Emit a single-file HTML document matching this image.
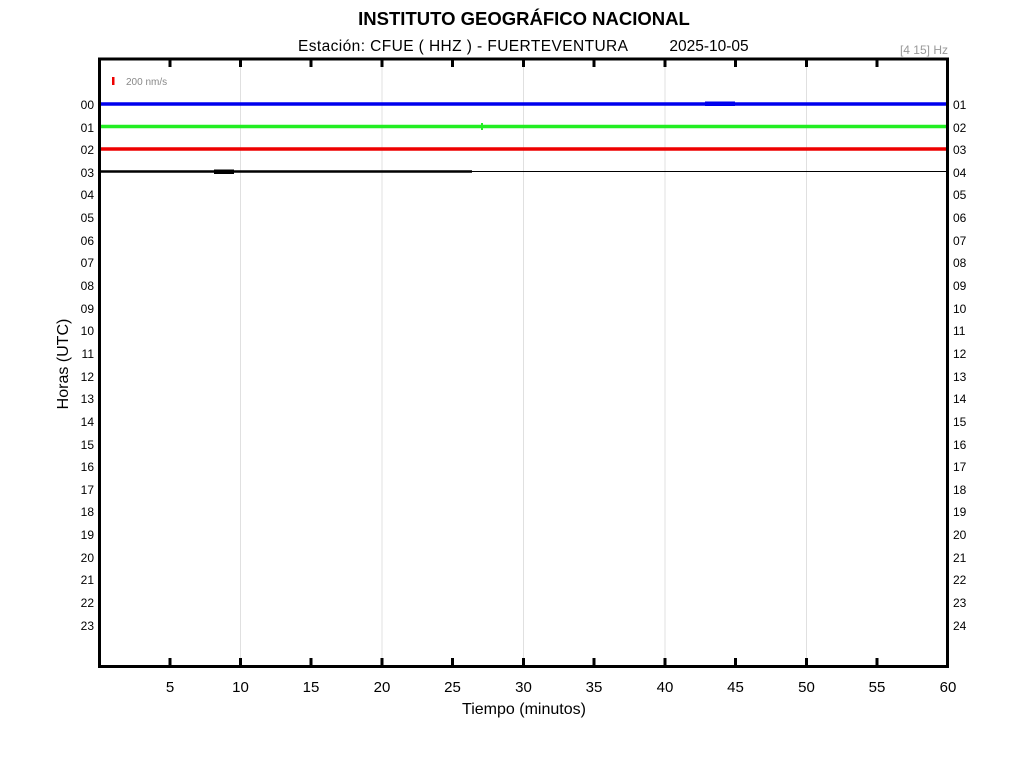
<!DOCTYPE html>
<html><head><meta charset="utf-8"><style>
body{margin:0;background:#fff;}
svg text{font-family:"Liberation Sans",Arial,sans-serif;}
</style></head><body>
<svg width="1024" height="768" xmlns="http://www.w3.org/2000/svg">
<rect width="1024" height="768" fill="#fff"/>
<text x="524" y="25" font-size="18.5" font-weight="bold" text-anchor="middle">INSTITUTO GEOGRÁFICO NACIONAL</text>
<text x="463" y="51" font-size="15.5" text-anchor="middle" textLength="330">Estación:  CFUE ( HHZ ) - FUERTEVENTURA</text>
<text x="709" y="51" font-size="15.5" text-anchor="middle">2025-10-05</text>
<text x="948" y="54" font-size="12" fill="#999" text-anchor="end">[4 15] Hz</text>
<g stroke="#e0e0e0" stroke-width="1">
<line x1="240.5" y1="59" x2="240.5" y2="666"/><line x1="382" y1="59" x2="382" y2="666"/><line x1="523.5" y1="59" x2="523.5" y2="666"/><line x1="665" y1="59" x2="665" y2="666"/><line x1="806.5" y1="59" x2="806.5" y2="666"/>
</g>
<rect x="112" y="77" width="2.5" height="8" fill="#e00"/>
<text x="126" y="85" font-size="10" fill="#888">200 nm/s</text>
<line x1="100" y1="104" x2="947" y2="104" stroke="#0000ee" stroke-width="3.5"/>
<line x1="100" y1="126.5" x2="947" y2="126.5" stroke="#22ee22" stroke-width="3.5"/>
<line x1="100" y1="149" x2="947" y2="149" stroke="#ee0000" stroke-width="3.5"/>
<line x1="100" y1="171.5" x2="472" y2="171.5" stroke="#000" stroke-width="2.5"/>
<line x1="472" y1="171.5" x2="947" y2="171.5" stroke="#000" stroke-width="1"/>
<rect x="705" y="101.5" width="30" height="4.5" fill="#0000ee"/>
<rect x="214" y="169.5" width="20" height="4.5" fill="#000"/>
<rect x="481" y="123" width="2" height="7" fill="#22ee22"/>
<rect x="99.5" y="59" width="848" height="607.5" fill="none" stroke="#000" stroke-width="3"/>
<g stroke="#000" stroke-width="3">
<line x1="170" y1="58" x2="170" y2="67"/><line x1="240.5" y1="58" x2="240.5" y2="67"/><line x1="311" y1="58" x2="311" y2="67"/><line x1="382" y1="58" x2="382" y2="67"/><line x1="452.5" y1="58" x2="452.5" y2="67"/><line x1="523.5" y1="58" x2="523.5" y2="67"/><line x1="594" y1="58" x2="594" y2="67"/><line x1="665" y1="58" x2="665" y2="67"/><line x1="735.5" y1="58" x2="735.5" y2="67"/><line x1="806.5" y1="58" x2="806.5" y2="67"/><line x1="877" y1="58" x2="877" y2="67"/>
<line x1="170" y1="666" x2="170" y2="658"/><line x1="240.5" y1="666" x2="240.5" y2="658"/><line x1="311" y1="666" x2="311" y2="658"/><line x1="382" y1="666" x2="382" y2="658"/><line x1="452.5" y1="666" x2="452.5" y2="658"/><line x1="523.5" y1="666" x2="523.5" y2="658"/><line x1="594" y1="666" x2="594" y2="658"/><line x1="665" y1="666" x2="665" y2="658"/><line x1="735.5" y1="666" x2="735.5" y2="658"/><line x1="806.5" y1="666" x2="806.5" y2="658"/><line x1="877" y1="666" x2="877" y2="658"/>
</g>
<g font-size="15" text-anchor="middle">
<text x="170" y="692">5</text><text x="240.5" y="692">10</text><text x="311" y="692">15</text><text x="382" y="692">20</text><text x="452.5" y="692">25</text><text x="523.5" y="692">30</text><text x="594" y="692">35</text><text x="665" y="692">40</text><text x="735.5" y="692">45</text><text x="806.5" y="692">50</text><text x="877" y="692">55</text><text x="948" y="692">60</text>
</g>
<text x="524" y="714" font-size="16" text-anchor="middle">Tiempo (minutos)</text>
<text transform="translate(68,364) rotate(-90)" font-size="16" text-anchor="middle">Horas (UTC)</text>
<g font-size="12" text-anchor="end">
<text x="94" y="109">00</text><text x="94" y="132">01</text><text x="94" y="154">02</text><text x="94" y="177">03</text><text x="94" y="199">04</text><text x="94" y="222">05</text><text x="94" y="245">06</text><text x="94" y="267">07</text><text x="94" y="290">08</text><text x="94" y="313">09</text><text x="94" y="335">10</text><text x="94" y="358">11</text><text x="94" y="381">12</text><text x="94" y="403">13</text><text x="94" y="426">14</text><text x="94" y="449">15</text><text x="94" y="471">16</text><text x="94" y="494">17</text><text x="94" y="516">18</text><text x="94" y="539">19</text><text x="94" y="562">20</text><text x="94" y="584">21</text><text x="94" y="607">22</text><text x="94" y="630">23</text>
</g>
<g font-size="12">
<text x="953" y="109">01</text><text x="953" y="132">02</text><text x="953" y="154">03</text><text x="953" y="177">04</text><text x="953" y="199">05</text><text x="953" y="222">06</text><text x="953" y="245">07</text><text x="953" y="267">08</text><text x="953" y="290">09</text><text x="953" y="313">10</text><text x="953" y="335">11</text><text x="953" y="358">12</text><text x="953" y="381">13</text><text x="953" y="403">14</text><text x="953" y="426">15</text><text x="953" y="449">16</text><text x="953" y="471">17</text><text x="953" y="494">18</text><text x="953" y="516">19</text><text x="953" y="539">20</text><text x="953" y="562">21</text><text x="953" y="584">22</text><text x="953" y="607">23</text><text x="953" y="630">24</text>
</g>
</svg>
</body></html>
